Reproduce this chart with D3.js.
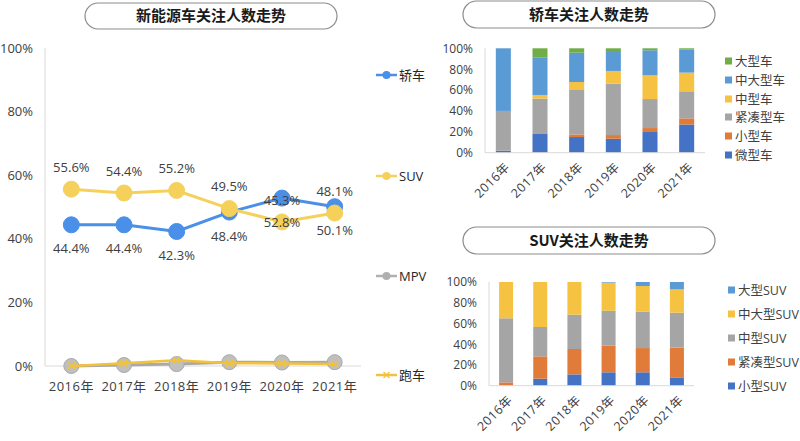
<!DOCTYPE html>
<html><head><meta charset="utf-8">
<script src="https://cdn.jsdelivr.net/npm/d3@7"></script>
<style>
html,body{margin:0;padding:0;background:#fff;}
svg{display:block;font-family:"Open Sans","Noto Sans CJK SC",sans-serif;}
</style></head>
<body>
<svg id="c" width="800" height="441"></svg>
<script>
// ---- data ----
const years = ["2016年","2017年","2018年","2019年","2020年","2021年"];
const lineSeries = ["轿车","SUV","MPV","跑车"];
const sedanShare = [44.4, 44.4, 42.3, 48.4, 52.8, 50.1];
const suvShare   = [55.6, 54.4, 55.2, 49.5, 45.3, 48.1];
const mpvShare   = [0.0, 0.3, 0.6, 1.2, 1.1, 1.2];
const sportShare = [0.0, 0.9, 1.8, 0.9, 0.8, 0.6];
const leftTicks = [0, 20, 40, 60, 80, 100];

const sedanKeys = ["微型车","小型车","紧凑型车","中型车","中大型车","大型车"];
const sedanMicro   = [1.9, 17.9, 15.0, 13.4, 19.8, 27.0];
const sedanSmall   = [0.0, 0.0, 2.5, 3.5, 3.8, 5.9];
const sedanCompact = [38.1, 33.9, 43.2, 49.2, 27.8, 25.9];
const sedanMid     = [0.0, 3.5, 7.0, 12.2, 22.7, 17.9];
const sedanMidLg   = [60.0, 36.1, 28.1, 19.1, 24.0, 22.3];
const sedanLarge   = [0.0, 8.6, 4.2, 2.6, 1.9, 1.0];

const suvKeys = ["小型SUV","紧凑型SUV","中型SUV","中大型SUV","大型SUV"];
const suvSmall   = [0.0, 6.8, 10.9, 12.9, 12.9, 8.0];
const suvCompact = [3.2, 21.5, 24.5, 25.7, 23.4, 28.7];
const suvMid     = [61.8, 28.3, 33.1, 33.7, 35.1, 33.7];
const suvMidLg   = [35.0, 43.4, 31.5, 27.1, 24.7, 22.5];
const suvLarge   = [0.0, 0.0, 0.0, 0.6, 3.9, 7.1];
const pctTicks = [0, 20, 40, 60, 80, 100];

// ---- render ----
const svg = d3.select("#c");
const txt = "#404040";

function titleBox(x0, x1, y0, y1, label) {
  svg.append("rect").attr("x", x0).attr("y", y0).attr("width", x1 - x0).attr("height", y1 - y0)
    .attr("rx", (y1 - y0) / 2).attr("fill", "#fff").attr("stroke", "#8c8c8c").attr("stroke-width", 1.2);
  svg.append("text").attr("x", (x0 + x1) / 2).attr("y", (y0 + y1) / 2).attr("dy", "0.36em")
    .attr("text-anchor", "middle").attr("font-size", 15).attr("font-weight", "bold")
    .attr("font-family", "'Noto Sans CJK SC',sans-serif").attr("fill", "#1a1a1a").text(label);
}

// ===== Left line chart =====
titleBox(85, 337, 3, 29, "新能源车关注人数走势");
const xL = d3.scaleBand().domain(years).range([45, 361]);
const yL = d3.scaleLinear().domain([0, 100]).range([366, 48]);
const gL = svg.append("g");
gL.append("line").attr("x1", 45).attr("x2", 45).attr("y1", yL(100)).attr("y2", yL(0)).attr("stroke", "#d9d9d9");
gL.append("line").attr("x1", 45).attr("x2", 361).attr("y1", yL(0)).attr("y2", yL(0)).attr("stroke", "#d9d9d9");
gL.selectAll(".yt").data(leftTicks).join("text").attr("x", 33).attr("y", d => yL(d)).attr("dy", "0.36em")
  .attr("text-anchor", "end").attr("font-size", 13).attr("fill", txt).text(d => d + "%");
gL.selectAll(".xt").data(years).join("text").attr("x", d => xL(d) + xL.bandwidth() / 2).attr("y", 386)
  .attr("dy", "0.36em").attr("text-anchor", "middle").attr("font-size", 13).attr("fill", txt)
  .attr("letter-spacing", "0.5px").text(d => d);

const cx = (i) => xL(years[i]) + xL.bandwidth() / 2;
const line = d3.line().x((d, i) => cx(i)).y(d => yL(d));
const blue = "#4a8fe8", yellow = "#f5d15c", grey = "#bfbfbf", sportC = "#f2c23a";
function drawSeries(vals, color, r, stroke) {
  gL.append("path").datum(vals).attr("d", line).attr("fill", "none").attr("stroke", stroke || color).attr("stroke-width", 3);
  if (r) gL.selectAll(null).data(vals).join("circle").attr("cx", (d, i) => cx(i)).attr("cy", d => yL(d))
    .attr("r", r).attr("fill", color).attr("stroke", stroke || color).attr("stroke-width", 1);
}
drawSeries(sedanShare, blue, 8);
drawSeries(suvShare, yellow, 8);
drawSeries(mpvShare, grey, 7.5, "#a9a9a9");
gL.append("path").datum(sportShare).attr("d", line).attr("fill", "none").attr("stroke", sportC).attr("stroke-width", 2.5);
sportShare.forEach((d, i) => {
  const x = cx(i), y = yL(d), s = 3.5;
  gL.append("path").attr("d", `M${x - s},${y - s}L${x + s},${y + s}M${x - s},${y + s}L${x + s},${y - s}`)
    .attr("stroke", sportC).attr("stroke-width", 1.5);
});
gL.selectAll(".ls").data(suvShare).join("text").attr("x", (d, i) => cx(i)).attr("y", d => yL(d) - 22)
  .attr("dy", "0.36em").attr("text-anchor", "middle").attr("font-size", 13).attr("fill", txt).text(d => d.toFixed(1) + "%");
gL.selectAll(".lb").data(sedanShare).join("text").attr("x", (d, i) => cx(i)).attr("y", d => yL(d) + 24)
  .attr("dy", "0.36em").attr("text-anchor", "middle").attr("font-size", 13).attr("fill", txt).text(d => d.toFixed(1) + "%");

// legend
const legY = [75, 176, 276, 375];
const legC = [blue, yellow, "#b0b0b0", sportC];
lineSeries.forEach((name, i) => {
  const y = legY[i];
  svg.append("line").attr("x1", 376).attr("x2", 397).attr("y1", y).attr("y2", y).attr("stroke", legC[i]).attr("stroke-width", 2.5);
  if (i < 3) svg.append("circle").attr("cx", 386.5).attr("cy", y).attr("r", 4).attr("fill", legC[i]);
  else svg.append("path").attr("d", `M383.5,${y - 3}L389.5,${y + 3}M383.5,${y + 3}L389.5,${y - 3}`).attr("stroke", sportC).attr("stroke-width", 1.3);
  svg.append("text").attr("x", 399).attr("y", y).attr("dy", "0.36em").attr("font-size", 13).attr("fill", "#262626").text(name);
});

// ===== Stacked charts =====
const officeColors = {blue: "#4472c4", orange: "#e07b39", grey: "#a5a5a5", yellow: "#f5c242", lblue: "#5b9bd5", green: "#70ad47"};
function stacked(opts) {
  const {keys, arrays, colors, x0, x1, yTop, yBot, legX, legYs, title, box} = opts;
  titleBox(box[0], box[1], box[2], box[3], title);
  const rows = years.map((yr, i) => { const r = {year: yr}; keys.forEach((k, j) => r[k] = arrays[j][i]); return r; });
  const series = d3.stack().keys(keys)(rows);
  const x = d3.scaleBand().domain(years).range([x0, x1]).paddingInner(0.59).paddingOuter(0.295);
  const y = d3.scaleLinear().domain([0, 100]).range([yBot, yTop]);
  const g = svg.append("g");
  g.selectAll("g.s").data(series).join("g").attr("fill", (d, i) => colors[i])
    .selectAll("rect").data(d => d).join("rect")
    .attr("x", d => x(d.data.year)).attr("width", x.bandwidth())
    .attr("y", d => y(d[1])).attr("height", d => Math.max(0, y(d[0]) - y(d[1])));
  g.append("line").attr("x1", x0).attr("x2", x0).attr("y1", yTop).attr("y2", yBot).attr("stroke", "#d9d9d9");
  g.append("line").attr("x1", x0).attr("x2", x1).attr("y1", yBot).attr("y2", yBot).attr("stroke", "#d9d9d9");
  g.selectAll(".yt").data(pctTicks).join("text").attr("x", x0 - 12).attr("y", d => y(d)).attr("dy", "0.36em")
    .attr("text-anchor", "end").attr("font-size", 12).attr("fill", txt).text(d => d + "%");
  g.selectAll(".xt").data(years).join("text")
    .attr("transform", d => `translate(${x(d) + x.bandwidth() / 2 + 4},${yBot + 12}) rotate(-45)`)
    .attr("dy", "0.36em").attr("text-anchor", "end").attr("font-size", 12.5).attr("fill", txt)
    .attr("letter-spacing", "0.5px").text(d => d);
  // legend (top to bottom reversed order)
  const rev = keys.map((k, i) => ({k, c: colors[i]})).reverse();
  rev.forEach((d, i) => {
    const yy = legYs[i];
    g.append("rect").attr("x", legX).attr("y", yy - 3.5).attr("width", 7).attr("height", 7).attr("fill", d.c);
    g.append("text").attr("x", legX + 10).attr("y", yy).attr("dy", "0.36em").attr("font-size", 12.5)
      .attr("fill", txt).text(d.k);
  });
}
const oc = officeColors;
stacked({
  keys: sedanKeys, arrays: [sedanMicro, sedanSmall, sedanCompact, sedanMid, sedanMidLg, sedanLarge],
  colors: [oc.blue, oc.orange, oc.grey, oc.yellow, oc.lblue, oc.green],
  x0: 485, x1: 705, yTop: 48.3, yBot: 152.7, legX: 725, legYs: [61, 80, 99, 117, 136, 155],
  title: "轿车关注人数走势", box: [463, 715, 1, 28]
});
stacked({
  keys: suvKeys, arrays: [suvSmall, suvCompact, suvMid, suvMidLg, suvLarge],
  colors: [oc.blue, oc.orange, oc.grey, oc.yellow, oc.lblue],
  x0: 489, x1: 694, yTop: 282, yBot: 385.7, legX: 728, legYs: [290, 314, 338, 362, 386],
  title: "SUV关注人数走势", box: [463, 715, 227, 254]
});
</script>
</body></html>
